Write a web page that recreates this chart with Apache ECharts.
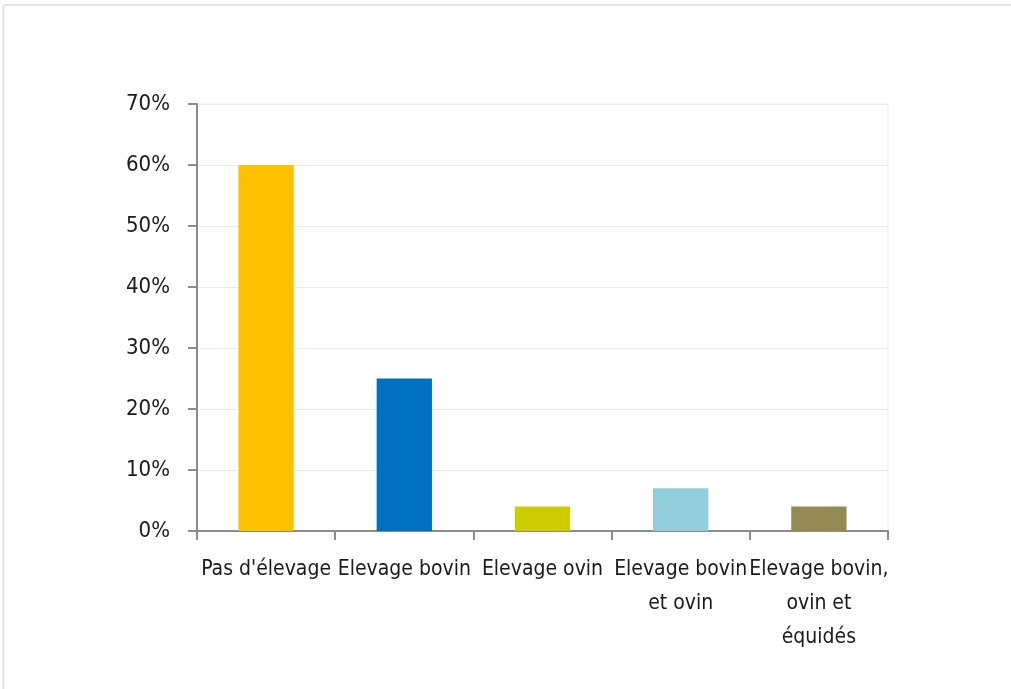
<!DOCTYPE html>
<html>
<head>
<meta charset="utf-8">
<script src="https://cdn.jsdelivr.net/npm/echarts@6/dist/echarts.min.js"></script>
<style>
html,body{margin:0;padding:0;background:#fff;}
#chart{width:1011px;height:689px;}
</style>
</head>
<body>
<div id="chart"></div>
<script>
const categories = ["Pas d'élevage", "Elevage bovin", "Elevage ovin", "Elevage bovin\net ovin", "Elevage bovin,\novin et\néquidés"];
const values = [60, 25, 4, 7, 4];
const barColors = ["#FFC000", "#0070C0", "#CCCC00", "#92CDDC", "#948A54"];
const yTicks = [0, 10, 20, 30, 40, 50, 60, 70];

const FONT = "'Liberation Sans Narrow', 'DejaVu Sans Condensed', 'Arial Narrow', sans-serif";
const chart = echarts.init(document.getElementById('chart'), null, {renderer: 'canvas'});
chart.setOption({
  animation: false,
  backgroundColor: '#ffffff',
  graphic: [
    {type: 'line', shape: {x1: 3.5, y1: 5, x2: 1011, y2: 5}, style: {stroke: '#e3e3e3', lineWidth: 2}},
    {type: 'line', shape: {x1: 3.5, y1: 5, x2: 3.5, y2: 689}, style: {stroke: '#e3e3e3', lineWidth: 2}}
  ],
  grid: {left: 197, right: 123, top: 104, bottom: 158, show: true, borderColor: '#ebebeb', borderWidth: 1, containLabel: false},
  xAxis: {
    type: 'category',
    data: categories,
    axisLine: {show: true, lineStyle: {color: '#8c8c8c', width: 2}},
    axisTick: {show: true, length: 9, alignWithLabel: false, lineStyle: {color: '#8c8c8c', width: 2}},
    axisLabel: {interval: 0, margin: 22, color: '#1a1a1a', fontFamily: FONT, fontSize: 21, lineHeight: 34}
  },
  yAxis: {
    type: 'value',
    min: 0, max: 70, interval: 10,
    axisLine: {show: true, lineStyle: {color: '#8c8c8c', width: 2}},
    axisTick: {show: true, length: 9, lineStyle: {color: '#8c8c8c', width: 2}},
    splitLine: {show: true, lineStyle: {color: '#ebebeb', width: 1}},
    axisLabel: {margin: 27, color: '#1a1a1a', fontFamily: FONT, fontSize: 22,
      formatter: v => yTicks.includes(v) ? v + '%' : ''}
  },
  series: [{
    type: 'bar',
    barWidth: '40%',
    data: values.map((v, i) => ({value: v, itemStyle: {color: barColors[i]}}))
  }]
});
</script>
</body>
</html>
